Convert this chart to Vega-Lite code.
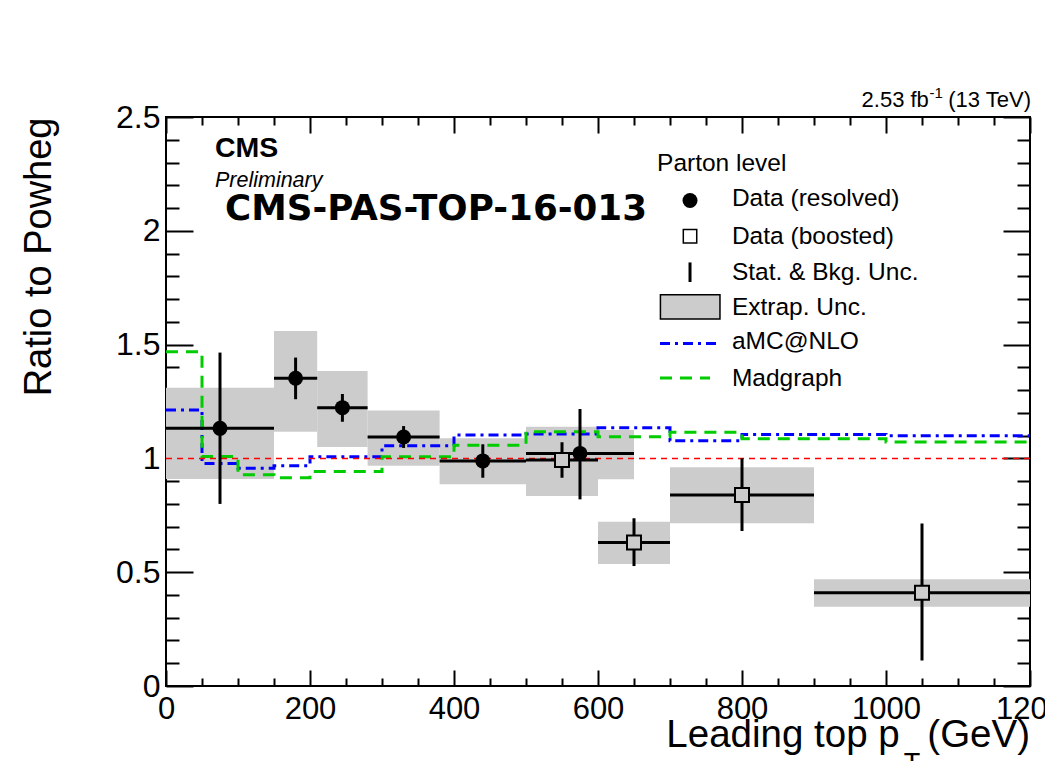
{
  "$schema": "https://vega.github.io/schema/vega-lite/v6.json",
  "width": 864,
  "height": 569,
  "autosize": {"type": "none"},
  "padding": {"left": 166, "top": 117, "right": 15, "bottom": 75},
  "background": "white",
  "config": {
    "view": {"stroke": "black", "strokeWidth": 2},
    "font": "Liberation Sans",
    "axis": {
      "domain": false,
      "grid": false,
      "labelFont": "Liberation Sans",
      "labelFontSize": 31,
      "labelColor": "black",
      "tickColor": "black",
      "tickWidth": 2,
      "labelFlush": false,
      "labelOverlap": false
    }
  },
  "datasets": {
    "measurements": [
      {"sel": "resolved", "lo": 0, "hi": 150, "pt": 75, "ratio": 1.132, "statLo": 0.80, "statHi": 1.465, "extLo": 0.91, "extHi": 1.31},
      {"sel": "resolved", "lo": 150, "hi": 210, "pt": 180, "ratio": 1.352, "statLo": 1.26, "statHi": 1.443, "extLo": 1.117, "extHi": 1.56},
      {"sel": "resolved", "lo": 210, "hi": 280, "pt": 245, "ratio": 1.223, "statLo": 1.161, "statHi": 1.283, "extLo": 1.05, "extHi": 1.384},
      {"sel": "resolved", "lo": 280, "hi": 380, "pt": 330, "ratio": 1.094, "statLo": 1.046, "statHi": 1.142, "extLo": 0.968, "extHi": 1.21},
      {"sel": "resolved", "lo": 380, "hi": 500, "pt": 440, "ratio": 0.989, "statLo": 0.915, "statHi": 1.062, "extLo": 0.886, "extHi": 1.088},
      {"sel": "resolved", "lo": 500, "hi": 650, "pt": 575, "ratio": 1.022, "statLo": 0.82, "statHi": 1.217, "extLo": 0.908, "extHi": 1.125},
      {"sel": "boosted", "lo": 500, "hi": 600, "pt": 550, "ratio": 0.993, "statLo": 0.915, "statHi": 1.071, "extLo": 0.835, "extHi": 1.139},
      {"sel": "boosted", "lo": 600, "hi": 700, "pt": 650, "ratio": 0.631, "statLo": 0.527, "statHi": 0.737, "extLo": 0.536, "extHi": 0.722},
      {"sel": "boosted", "lo": 700, "hi": 900, "pt": 800, "ratio": 0.839, "statLo": 0.681, "statHi": 1.0, "extLo": 0.715, "extHi": 0.961},
      {"sel": "boosted", "lo": 900, "hi": 1200, "pt": 1050, "ratio": 0.41, "statLo": 0.112, "statHi": 0.714, "extLo": 0.348, "extHi": 0.469}
    ],
    "generators": [
      {"gen": "aMC@NLO", "lo": 0, "hi": 50, "ratio": 1.213},
      {"gen": "aMC@NLO", "lo": 50, "hi": 100, "ratio": 0.978},
      {"gen": "aMC@NLO", "lo": 100, "hi": 150, "ratio": 0.957},
      {"gen": "aMC@NLO", "lo": 150, "hi": 200, "ratio": 0.968},
      {"gen": "aMC@NLO", "lo": 200, "hi": 300, "ratio": 1.007},
      {"gen": "aMC@NLO", "lo": 300, "hi": 400, "ratio": 1.056},
      {"gen": "aMC@NLO", "lo": 400, "hi": 500, "ratio": 1.103},
      {"gen": "aMC@NLO", "lo": 500, "hi": 600, "ratio": 1.107},
      {"gen": "aMC@NLO", "lo": 600, "hi": 700, "ratio": 1.135},
      {"gen": "aMC@NLO", "lo": 700, "hi": 800, "ratio": 1.078},
      {"gen": "aMC@NLO", "lo": 800, "hi": 1000, "ratio": 1.105},
      {"gen": "aMC@NLO", "lo": 1000, "hi": 1200, "ratio": 1.099},
      {"gen": "Madgraph", "lo": 0, "hi": 50, "ratio": 1.469},
      {"gen": "Madgraph", "lo": 50, "hi": 100, "ratio": 1.008},
      {"gen": "Madgraph", "lo": 100, "hi": 150, "ratio": 0.928},
      {"gen": "Madgraph", "lo": 150, "hi": 200, "ratio": 0.915},
      {"gen": "Madgraph", "lo": 200, "hi": 300, "ratio": 0.942},
      {"gen": "Madgraph", "lo": 300, "hi": 400, "ratio": 1.007},
      {"gen": "Madgraph", "lo": 400, "hi": 500, "ratio": 1.058},
      {"gen": "Madgraph", "lo": 500, "hi": 600, "ratio": 1.117},
      {"gen": "Madgraph", "lo": 600, "hi": 700, "ratio": 1.095},
      {"gen": "Madgraph", "lo": 700, "hi": 800, "ratio": 1.115},
      {"gen": "Madgraph", "lo": 800, "hi": 1000, "ratio": 1.086},
      {"gen": "Madgraph", "lo": 1000, "hi": 1200, "ratio": 1.072}
    ]
  },
  "resolve": {"axis": {"x": "independent", "y": "independent"}},
  "layer": [
    {
      "data": {"name": "measurements"},
      "mark": {"type": "rect", "color": "#cccccc"},
      "encoding": {
        "x": {
          "field": "lo", "type": "quantitative",
          "scale": {"domain": [0, 1200], "nice": false, "zero": false},
          "axis": {
            "orient": "bottom",
            "values": [0, 50, 100, 150, 200, 250, 300, 350, 400, 450, 500, 550, 600, 650, 700, 750, 800, 850, 900, 950, 1000, 1050, 1100, 1150, 1200],
            "tickSize": {"condition": {"test": "datum.value % 200 === 0", "value": -16}, "value": -8},
            "labelExpr": "datum.value % 200 === 0 ? toString(datum.value) : ''",
            "labelPadding": 24,
            "labelAlign": "center",
            "labelBaseline": "top",
            "title": null
          }
        },
        "x2": {"field": "hi"},
        "y": {
          "field": "extLo", "type": "quantitative",
          "scale": {"domain": [0, 2.5], "nice": false, "zero": false},
          "axis": {
            "orient": "left",
            "values": [0, 0.1, 0.2, 0.3, 0.4, 0.5, 0.6, 0.7, 0.8, 0.9, 1, 1.1, 1.2, 1.3, 1.4, 1.5, 1.6, 1.7, 1.8, 1.9, 2, 2.1, 2.2, 2.3, 2.4, 2.5],
            "tickSize": {"condition": {"test": "abs(datum.value * 2 - round(datum.value * 2)) < 1e-6", "value": -27}, "value": -13},
            "labelExpr": "abs(datum.value * 2 - round(datum.value * 2)) < 1e-6 ? toString(round(datum.value * 10) / 10) : ''",
            "labelPadding": 33,
            "labelFontSize": 32,
            "labelAlign": "right",
            "labelBaseline": "middle",
            "title": "Ratio to Powheg",
            "titleFont": "Liberation Sans",
            "titleFontSize": 38,
            "titleFontWeight": "normal",
            "titleColor": "black",
            "titleAngle": 270,
            "titleAlign": "right",
            "titleBaseline": "alphabetic",
            "titleX": -116,
            "titleY": 0
          }
        },
        "y2": {"field": "extHi"}
      }
    },
    {
      "data": {"name": "generators"},
      "transform": [{"fold": ["lo", "hi"], "as": ["edge", "edgePt"]}],
      "mark": {"type": "line", "strokeWidth": 3, "interpolate": "linear"},
      "encoding": {
        "x": {"field": "edgePt", "type": "quantitative", "axis": null},
        "y": {"field": "ratio", "type": "quantitative", "axis": null},
        "order": [{"field": "edgePt", "type": "quantitative"}, {"field": "edge", "type": "nominal"}],
        "color": {"field": "gen", "type": "nominal", "scale": {"domain": ["aMC@NLO", "Madgraph"], "range": ["#0000ff", "#00cc00"]}, "legend": null},
        "strokeDash": {"field": "gen", "type": "nominal", "scale": {"domain": ["aMC@NLO", "Madgraph"], "range": [[10, 5, 3, 5], [12, 8]]}, "legend": null}
      }
    },
    {
      "data": {"values": [{}]},
      "mark": {"type": "rule", "color": "#ff0000", "strokeWidth": 1.5, "strokeDash": [6, 5]},
      "encoding": {
        "y": {"datum": 1, "type": "quantitative", "axis": null}
      }
    },
    {
      "data": {"name": "measurements"},
      "mark": {"type": "rule", "color": "black", "strokeWidth": 3},
      "encoding": {
        "x": {
          "field": "lo", "type": "quantitative",
          "axis": {
            "orient": "top",
            "values": [0, 50, 100, 150, 200, 250, 300, 350, 400, 450, 500, 550, 600, 650, 700, 750, 800, 850, 900, 950, 1000, 1050, 1100, 1150, 1200],
            "tickSize": {"condition": {"test": "datum.value % 200 === 0", "value": -16}, "value": -8},
            "labels": false,
            "title": null
          }
        },
        "x2": {"field": "hi"},
        "y": {
          "field": "ratio", "type": "quantitative",
          "axis": {
            "orient": "right",
            "values": [0, 0.1, 0.2, 0.3, 0.4, 0.5, 0.6, 0.7, 0.8, 0.9, 1, 1.1, 1.2, 1.3, 1.4, 1.5, 1.6, 1.7, 1.8, 1.9, 2, 2.1, 2.2, 2.3, 2.4, 2.5],
            "tickSize": {"condition": {"test": "abs(datum.value * 2 - round(datum.value * 2)) < 1e-6", "value": -27}, "value": -13},
            "labels": false,
            "title": null
          }
        }
      }
    },
    {
      "data": {"name": "measurements"},
      "mark": {"type": "rule", "color": "black", "strokeWidth": 3},
      "encoding": {
        "x": {"field": "pt", "type": "quantitative", "axis": null},
        "y": {"field": "statLo", "type": "quantitative", "axis": null},
        "y2": {"field": "statHi"}
      }
    },
    {
      "data": {"name": "measurements"},
      "transform": [{"filter": "datum.sel === 'resolved'"}],
      "mark": {"type": "point", "shape": "circle", "filled": true, "color": "black", "size": 225, "opacity": 1},
      "encoding": {
        "x": {"field": "pt", "type": "quantitative", "axis": null},
        "y": {"field": "ratio", "type": "quantitative", "axis": null}
      }
    },
    {
      "data": {"name": "measurements"},
      "transform": [{"filter": "datum.sel === 'boosted'"}],
      "mark": {"type": "point", "shape": "square", "filled": true, "fill": "#cccccc", "stroke": "black", "strokeWidth": 2, "size": 196, "opacity": 1},
      "encoding": {
        "x": {"field": "pt", "type": "quantitative", "axis": null},
        "y": {"field": "ratio", "type": "quantitative", "axis": null}
      }
    },
    {
      "data": {"values": [{}]},
      "layer": [
        {
          "mark": {"type": "text", "text": "CMS", "font": "Liberation Sans", "fontSize": 28.5, "fontWeight": "bold", "align": "left", "baseline": "alphabetic", "color": "black"},
          "encoding": {"x": {"datum": 68, "type": "quantitative", "axis": null}, "y": {"datum": 2.324, "type": "quantitative", "axis": null}}
        },
        {
          "mark": {"type": "text", "text": "Preliminary", "font": "Liberation Sans", "fontSize": 21.5, "fontStyle": "italic", "align": "left", "baseline": "alphabetic", "color": "black"},
          "encoding": {"x": {"datum": 68, "type": "quantitative", "axis": null}, "y": {"datum": 2.192, "type": "quantitative", "axis": null}}
        },
        {
          "mark": {"type": "text", "text": "CMS-PAS-TOP-16-013", "font": "DejaVu Sans", "fontSize": 35.7, "fontWeight": "bold", "align": "left", "baseline": "alphabetic", "color": "black"},
          "encoding": {"x": {"datum": 82, "type": "quantitative", "axis": null}, "y": {"datum": 2.047, "type": "quantitative", "axis": null}}
        },
        {
          "mark": {"type": "text", "text": "(13 TeV)", "font": "Liberation Sans", "fontSize": 22, "align": "right", "baseline": "alphabetic", "color": "black"},
          "encoding": {"x": {"datum": 1201.4, "type": "quantitative", "axis": null}, "y": {"datum": 2.544, "type": "quantitative", "axis": null}}
        },
        {
          "mark": {"type": "text", "text": "-1", "font": "Liberation Sans", "fontSize": 15, "align": "right", "baseline": "alphabetic", "color": "black"},
          "encoding": {"x": {"datum": 1079, "type": "quantitative", "axis": null}, "y": {"datum": 2.583, "type": "quantitative", "axis": null}}
        },
        {
          "mark": {"type": "text", "text": "2.53 fb", "font": "Liberation Sans", "fontSize": 22, "align": "right", "baseline": "alphabetic", "color": "black"},
          "encoding": {"x": {"datum": 1059.5, "type": "quantitative", "axis": null}, "y": {"datum": 2.544, "type": "quantitative", "axis": null}}
        },
        {
          "mark": {"type": "text", "text": "Leading top p", "font": "Liberation Sans", "fontSize": 38.5, "align": "right", "baseline": "alphabetic", "color": "black"},
          "encoding": {"x": {"datum": 1019, "type": "quantitative", "axis": null}, "y": {"datum": -0.268, "type": "quantitative", "axis": null}}
        },
        {
          "mark": {"type": "text", "text": "T", "font": "Liberation Sans", "fontSize": 27, "align": "center", "baseline": "alphabetic", "color": "black"},
          "encoding": {"x": {"datum": 1036, "type": "quantitative", "axis": null}, "y": {"datum": -0.378, "type": "quantitative", "axis": null}}
        },
        {
          "mark": {"type": "text", "text": "(GeV)", "font": "Liberation Sans", "fontSize": 38.5, "align": "right", "baseline": "alphabetic", "color": "black"},
          "encoding": {"x": {"datum": 1200, "type": "quantitative", "axis": null}, "y": {"datum": -0.268, "type": "quantitative", "axis": null}}
        },
        {
          "mark": {"type": "text", "text": "Parton level", "font": "Liberation Sans", "fontSize": 24.5, "align": "left", "baseline": "alphabetic", "color": "black"},
          "encoding": {"x": {"datum": 682, "type": "quantitative", "axis": null}, "y": {"datum": 2.263, "type": "quantitative", "axis": null}}
        },
        {
          "mark": {"type": "point", "shape": "circle", "filled": true, "color": "black", "size": 225, "opacity": 1},
          "encoding": {"x": {"datum": 727.8, "type": "quantitative", "axis": null}, "y": {"datum": 2.133, "type": "quantitative", "axis": null}}
        },
        {
          "mark": {"type": "text", "text": "Data (resolved)", "font": "Liberation Sans", "fontSize": 24.5, "align": "left", "baseline": "alphabetic", "color": "black"},
          "encoding": {"x": {"datum": 786, "type": "quantitative", "axis": null}, "y": {"datum": 2.109, "type": "quantitative", "axis": null}}
        },
        {
          "mark": {"type": "point", "shape": "square", "filled": true, "fill": "white", "stroke": "black", "strokeWidth": 1.5, "size": 180, "opacity": 1},
          "encoding": {"x": {"datum": 727.8, "type": "quantitative", "axis": null}, "y": {"datum": 1.976, "type": "quantitative", "axis": null}}
        },
        {
          "mark": {"type": "text", "text": "Data (boosted)", "font": "Liberation Sans", "fontSize": 24.5, "align": "left", "baseline": "alphabetic", "color": "black"},
          "encoding": {"x": {"datum": 786, "type": "quantitative", "axis": null}, "y": {"datum": 1.942, "type": "quantitative", "axis": null}}
        },
        {
          "mark": {"type": "rule", "color": "black", "strokeWidth": 3},
          "encoding": {"x": {"datum": 727.8, "type": "quantitative", "axis": null}, "y": {"datum": 1.775, "type": "quantitative", "axis": null}, "y2": {"datum": 1.861}}
        },
        {
          "mark": {"type": "text", "text": "Stat. & Bkg. Unc.", "font": "Liberation Sans", "fontSize": 24.5, "align": "left", "baseline": "alphabetic", "color": "black"},
          "encoding": {"x": {"datum": 786, "type": "quantitative", "axis": null}, "y": {"datum": 1.786, "type": "quantitative", "axis": null}}
        },
        {
          "mark": {"type": "rect", "fill": "#cccccc", "stroke": "black", "strokeWidth": 1.5},
          "encoding": {"x": {"datum": 686.7, "type": "quantitative", "axis": null}, "x2": {"datum": 769.4}, "y": {"datum": 1.612, "type": "quantitative", "axis": null}, "y2": {"datum": 1.719}}
        },
        {
          "mark": {"type": "text", "text": "Extrap. Unc.", "font": "Liberation Sans", "fontSize": 24.5, "align": "left", "baseline": "alphabetic", "color": "black"},
          "encoding": {"x": {"datum": 786, "type": "quantitative", "axis": null}, "y": {"datum": 1.63, "type": "quantitative", "axis": null}}
        },
        {
          "mark": {"type": "rule", "color": "#0000ff", "strokeWidth": 3, "strokeDash": [10, 5, 3, 5]},
          "encoding": {"x": {"datum": 686.1, "type": "quantitative", "axis": null}, "x2": {"datum": 766.7}, "y": {"datum": 1.505, "type": "quantitative", "axis": null}}
        },
        {
          "mark": {"type": "text", "text": "aMC@NLO", "font": "Liberation Sans", "fontSize": 24.5, "align": "left", "baseline": "alphabetic", "color": "black"},
          "encoding": {"x": {"datum": 786, "type": "quantitative", "axis": null}, "y": {"datum": 1.481, "type": "quantitative", "axis": null}}
        },
        {
          "mark": {"type": "rule", "color": "#00cc00", "strokeWidth": 3, "strokeDash": [12, 8]},
          "encoding": {"x": {"datum": 686.1, "type": "quantitative", "axis": null}, "x2": {"datum": 755.6}, "y": {"datum": 1.353, "type": "quantitative", "axis": null}}
        },
        {
          "mark": {"type": "text", "text": "Madgraph", "font": "Liberation Sans", "fontSize": 24.5, "align": "left", "baseline": "alphabetic", "color": "black"},
          "encoding": {"x": {"datum": 786, "type": "quantitative", "axis": null}, "y": {"datum": 1.32, "type": "quantitative", "axis": null}}
        }
      ]
    }
  ]
}
